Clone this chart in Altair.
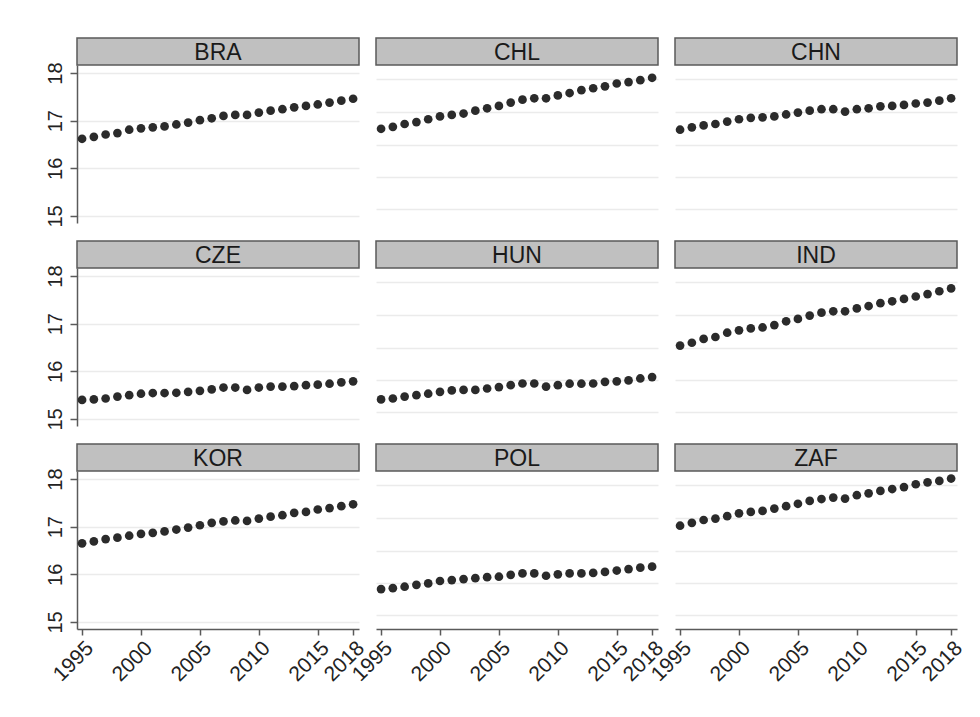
import altair as alt
import pandas as pd

# Years covered by every panel
years = list(range(1995, 2019))

# Panel order (3 x 3 grid, row by row)
countries = ["BRA", "CHL", "CHN", "CZE", "HUN", "IND", "KOR", "POL", "ZAF"]

# Yearly values per country, 1995-2018
bra = [16.62, 16.66, 16.71, 16.74, 16.81, 16.84, 16.86, 16.88, 16.92, 16.96, 17.01, 17.05,
       17.10, 17.12, 17.12, 17.17, 17.21, 17.24, 17.28, 17.31, 17.34, 17.38, 17.42, 17.46]
chl = [16.83, 16.87, 16.93, 16.97, 17.03, 17.09, 17.12, 17.15, 17.21, 17.26, 17.31, 17.38,
       17.44, 17.47, 17.47, 17.53, 17.58, 17.64, 17.68, 17.72, 17.78, 17.81, 17.85, 17.90]
chn = [16.81, 16.86, 16.90, 16.93, 16.98, 17.03, 17.06, 17.07, 17.09, 17.13, 17.17, 17.21,
       17.24, 17.24, 17.19, 17.24, 17.26, 17.30, 17.31, 17.33, 17.36, 17.38, 17.42, 17.47]
cze = [15.40, 15.41, 15.43, 15.47, 15.50, 15.53, 15.545, 15.545, 15.55, 15.57, 15.59, 15.62,
       15.66, 15.66, 15.61, 15.66, 15.68, 15.68, 15.69, 15.71, 15.72, 15.74, 15.77, 15.79]
hun = [15.41, 15.43, 15.47, 15.50, 15.53, 15.57, 15.60, 15.61, 15.61, 15.64, 15.67, 15.71,
       15.745, 15.745, 15.68, 15.71, 15.74, 15.74, 15.745, 15.78, 15.79, 15.81, 15.85, 15.88]
ind = [16.54, 16.60, 16.68, 16.72, 16.81, 16.86, 16.90, 16.92, 16.97, 17.05, 17.10, 17.17,
       17.23, 17.26, 17.26, 17.32, 17.37, 17.43, 17.47, 17.52, 17.57, 17.62, 17.68, 17.74]
kor = [16.65, 16.69, 16.74, 16.77, 16.81, 16.85, 16.87, 16.90, 16.94, 16.98, 17.03, 17.08,
       17.11, 17.13, 17.12, 17.17, 17.21, 17.24, 17.29, 17.31, 17.36, 17.39, 17.43, 17.47]
pol = [15.69, 15.71, 15.74, 15.78, 15.81, 15.86, 15.88, 15.90, 15.92, 15.94, 15.95, 15.99,
       16.02, 16.02, 15.97, 16.00, 16.02, 16.02, 16.03, 16.05, 16.08, 16.11, 16.14, 16.16]
zaf = [17.02, 17.08, 17.14, 17.17, 17.22, 17.28, 17.31, 17.33, 17.38, 17.43, 17.48, 17.54,
       17.58, 17.61, 17.59, 17.66, 17.70, 17.75, 17.79, 17.83, 17.89, 17.93, 17.96, 18.01]

series = [bra, chl, chn, cze, hun, ind, kor, pol, zaf]

# Axis ticks
y_ticks = [15, 16, 17, 18]
x_ticks = [1995, 2000, 2005, 2010, 2015, 2018]
# Grid lines drawn in the panels without a y axis
inner_grid = [15.14, 15.82, 16.50, 17.19, 17.87]

# Panel geometry
W, PH, SH = 282, 158, 27
XDOM = [1994.57, 2018.5]
YDOM = [14.853, 18.168]

FONT = "Liberation Sans"
AXIS_COLOR = "#5a5a5a"
GRID_COLOR = "#ebebeb"
DOT_COLOR = "#2b2b2b"


def panel(code, vals, idx):
    col, row = idx % 3, idx // 3
    data = pd.DataFrame({"year": years, "value": vals})

    if col == 0:
        y_axis = alt.Axis(
            values=y_ticks, title=None, grid=True, gridColor=GRID_COLOR, gridWidth=1.5,
            domain=True, domainColor=AXIS_COLOR, domainWidth=1.5,
            ticks=True, tickColor=AXIS_COLOR, tickWidth=1.5, tickSize=7,
            labels=True, labelAngle=270, labelAlign="center", labelBaseline="bottom",
            labelPadding=5, labelFont=FONT, labelFontSize=20, labelColor="#222222",
        )
    else:
        y_axis = alt.Axis(
            values=inner_grid, title=None, grid=True, gridColor=GRID_COLOR, gridWidth=1.5,
            domain=False, ticks=False, labels=False,
        )

    if row == 2:
        x_axis = alt.Axis(
            values=x_ticks, format="d", title=None, grid=False,
            domain=True, domainColor=AXIS_COLOR, domainWidth=1.5,
            ticks=True, tickColor=AXIS_COLOR, tickWidth=1.5, tickSize=6,
            labelAngle=315, labelAlign="right", labelBaseline="top", labelPadding=2,
            labelFont=FONT, labelFontSize=21, labelColor="#222222", labelOverlap=False,
            labelFlush=False,
        )
    else:
        x_axis = None

    dots = alt.Chart(data).mark_circle(size=76, color=DOT_COLOR, opacity=1).encode(
        x=alt.X("year:Q", scale=alt.Scale(domain=XDOM, nice=False, zero=False), axis=x_axis),
        y=alt.Y("value:Q", scale=alt.Scale(domain=YDOM, nice=False, zero=False), axis=y_axis),
    )

    strip_data = pd.DataFrame({"label": [code]})
    strip = alt.Chart(strip_data).mark_rect(
        fill="#c0c0c0", stroke="#5a5a5a", strokeWidth=1.5
    ).encode(x=alt.value(0), x2=alt.value(W), y=alt.value(-SH), y2=alt.value(0))
    strip_text = alt.Chart(strip_data).mark_text(
        font=FONT, fontSize=23, color="#1a1a1a", align="center", baseline="middle"
    ).encode(text="label:N", x=alt.value(W / 2), y=alt.value(-SH / 2 + 1))

    return alt.layer(dots, strip, strip_text).properties(width=W, height=PH)


panels = [panel(c, v, i) for i, (c, v) in enumerate(zip(countries, series))]

chart = (
    alt.concat(*panels, columns=3, spacing={"row": 45, "column": 17}, bounds="flush")
    .properties(padding={"left": 44, "top": 36, "right": 10, "bottom": 10}, background="white")
    .configure_view(stroke="transparent")
)

chart.save("out.html", embed_options={"renderer": "svg", "actions": False})
